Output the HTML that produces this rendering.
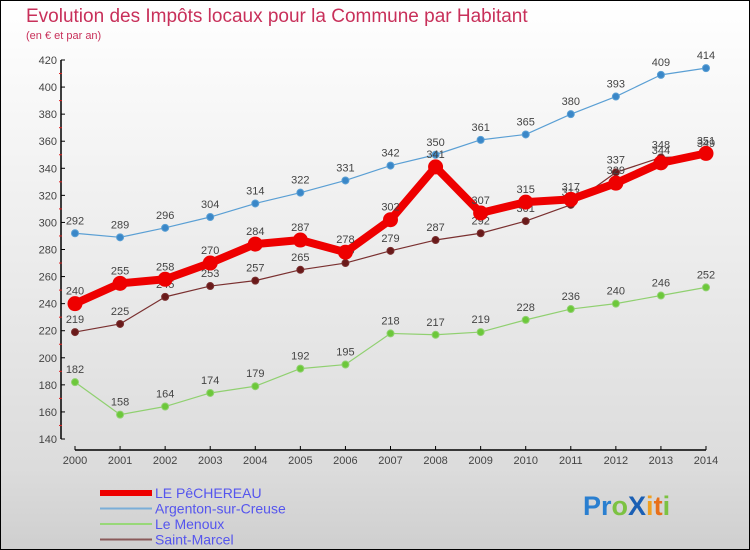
<!DOCTYPE html>
<html><head><meta charset="utf-8"><style>
body{margin:0;}
#wrap{width:750px;height:550px;position:relative;overflow:hidden;font-family:"Liberation Sans","DejaVu Sans",sans-serif;}
svg text{font-family:"Liberation Sans","DejaVu Sans",sans-serif;}
</style></head><body>
<div id="wrap">
<svg id="chart" width="750" height="550">
<defs>
<linearGradient id="bg" x1="0" y1="0" x2="0" y2="1">
<stop offset="0" stop-color="#ffffff"/><stop offset="0.85" stop-color="#dcdcdc"/><stop offset="1" stop-color="#cfcfcf"/>
</linearGradient>
</defs>
<rect x="0.5" y="0.5" width="749" height="549" fill="url(#bg)" stroke="#000"/>
<text x="26" y="22" font-size="19" fill="#c8305a">Evolution des Impôts locaux pour la Commune par Habitant</text>
<text x="26" y="39" font-size="11" fill="#c8305a">(en € et par an)</text>
<g id="axes"></g>
<g id="series"></g>
<g id="legend"></g>
<text x="583" y="515" font-size="27" font-weight="bold"><tspan fill="#2a7fd0">Pr</tspan><tspan fill="#7cc242">o</tspan><tspan fill="#1a5fb4">X</tspan><tspan fill="#f0a020">i</tspan><tspan fill="#e8701a">t</tspan><tspan fill="#7cc242">i</tspan></text>
</svg>
</div>
<script>
const years=[2000,2001,2002,2003,2004,2005,2006,2007,2008,2009,2010,2011,2012,2013,2014];
const yTicks=[140,160,180,200,220,240,260,280,300,320,340,360,380,400,420];
const pechereau=[240,255,258,270,284,287,278,302,341,307,315,317,329,344,351];
const argenton=[292,289,296,304,314,322,331,342,350,361,365,380,393,409,414];
const menoux=[182,158,164,174,179,192,195,218,217,219,228,236,240,246,252];
const marcel=[219,225,245,253,257,265,270,279,287,292,301,313,337,348,349];
const NS="http://www.w3.org/2000/svg";
function X(i){return 75+i*(706-75)/(years.length-1);}
function Y(v){return 439-(v-140)*(379/280);}
function mk(tag,attrs,parent){const e=document.createElementNS(NS,tag);for(const k in attrs)e.setAttribute(k,attrs[k]);parent.appendChild(e);return e;}
const axes=document.getElementById('axes');
let yl=mk('line',{x1:61,y1:Y(420),x2:61,y2:Y(140),stroke:'#000','stroke-width':1.5},axes);


yTicks.forEach(t=>{
  let l=mk('line',{x1:61,y1:Y(t),x2:65,y2:Y(t),stroke:'#000'},axes);
  
  
  if(t<420){let m=mk('line',{x1:59,y1:Y(t+10),x2:62,y2:Y(t+10),stroke:'#e02020'},axes);
  
  }
  let tx=mk('text',{x:57,y:Y(t)+4,'font-size':11,fill:'#444','text-anchor':'end'},axes);tx.textContent=t;
  
  
});
let xl=mk('line',{x1:X(0),y1:450,x2:X(14),y2:450,stroke:'#000','stroke-width':1.5},axes);


years.forEach((yr,i)=>{
  let l=mk('line',{x1:X(i),y1:446,x2:X(i),y2:450,stroke:'#000'},axes);
  
  
  let tx=mk('text',{x:X(i),y:464,'font-size':11,fill:'#444','text-anchor':'middle'},axes);tx.textContent=yr;
  
  
});
const sg=document.getElementById('series');
function drawSeries(vals,color,dot,w,r,name){
  const g=mk('g',{},sg);
  
  
  let p=mk('polyline',{points:vals.map((v,i)=>X(i)+','+Y(v)).join(' '),fill:'none',stroke:color,'stroke-width':w,'stroke-linejoin':'round'},g);
  
  
  vals.forEach((v,i)=>{
    let c=mk('circle',{cx:X(i),cy:Y(v),r:r,fill:dot,stroke:color,'stroke-width':1},g);
    
    
    let t=mk('text',{x:X(i),y:Y(v)-9,'font-size':11,fill:'#444','text-anchor':'middle'},g);t.textContent=v;
    
    
  });
}
drawSeries(argenton,'#5a9fd4','#3a87c8',1.2,3.5,'argenton');
drawSeries(menoux,'#90d070','#6cc83a',1.2,3.5,'menoux');
drawSeries(marcel,'#7a3030','#6a1a1a',1.2,3.5,'saint-marcel');
drawSeries(pechereau,'#ee0000','#ee0000',8,7,'pechereau');
const lg=document.getElementById('legend');
const leg=[['LE PêCHEREAU','#ee0000',6],['Argenton-sur-Creuse','#7aaed8',2],['Le Menoux','#98d878',2],['Saint-Marcel','#8a5a5a',2]];
leg.forEach((e,i)=>{
  const y=493+i*15.5;
  let g=mk('g',{},lg);
  
  
  mk('line',{x1:100,y1:y,x2:152,y2:y,stroke:e[1],'stroke-width':e[2]},g);
  let t=mk('text',{x:155,y:y+5,'font-size':14,fill:'#5555ee'},g);t.textContent=e[0];
});
</script>
</body></html>
